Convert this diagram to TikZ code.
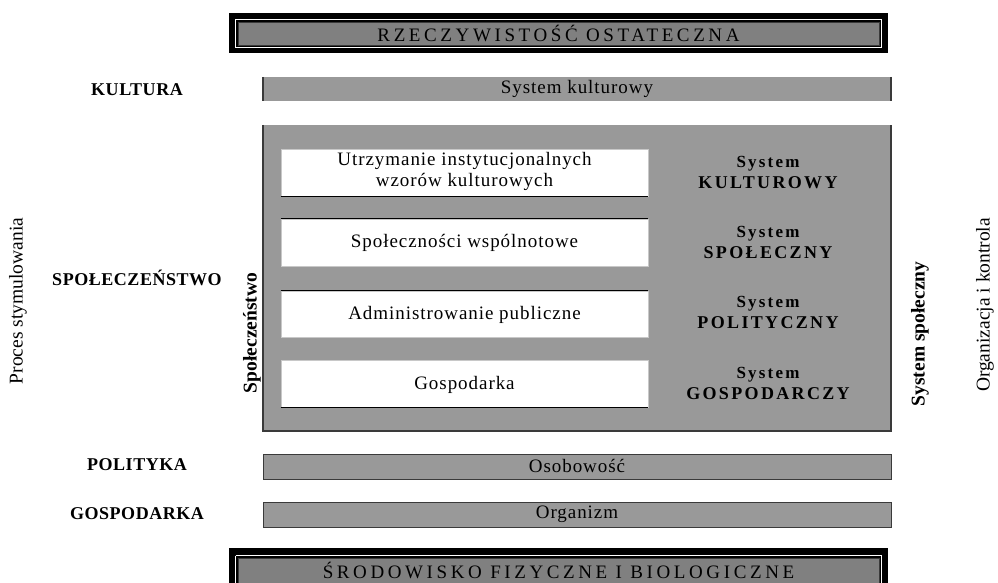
\documentclass[tikz,border=0pt]{standalone}
\usepackage{fontspec}
\setmainfont{Liberation Serif}
\newfontfamily\bodyf[LetterSpace=5]{Liberation Serif}
\newfontfamily\titlef[LetterSpace=19]{Liberation Serif}
\newfontfamily\labf[LetterSpace=3]{Liberation Serif}
\newfontfamily\sysf[LetterSpace=13]{Liberation Serif}
\newfontfamily\plainf{Liberation Serif}
\definecolor{barg}{HTML}{999999}
\definecolor{frameg}{HTML}{808080}
\definecolor{edge}{HTML}{3A3A3A}
\definecolor{lightedge}{HTML}{C8C8C8}
\begin{document}
\begin{tikzpicture}[x=1pt,y=-1pt,
  titletext/.style={font=\titlef\fontsize{19}{22}\selectfont, inner sep=0pt},
  bodytext/.style={font=\bodyf\fontsize{19}{21}\selectfont, align=center, inner sep=0pt},
  labtext/.style={font=\labf\bfseries\fontsize{18}{20}\selectfont, inner sep=0pt},
  systext/.style={font=\sysf\bfseries\fontsize{18}{21}\selectfont, align=center, inner sep=0pt},
  verttext/.style={rotate=90, font=\plainf\fontsize{19.5}{22}\selectfont, inner sep=0pt},
  vertbold/.style={rotate=90, font=\plainf\bfseries\fontsize{19.5}{22}\selectfont, inner sep=0pt},
  blackframe/.style={fill=black, draw=none, inner sep=0pt},
  framein/.style={fill=frameg, draw=edge, line width=0.8pt, inner sep=0pt},
  barbox/.style={fill=barg, draw=none, inner sep=0pt, minimum width=628pt, minimum height=24pt},
  framedbar/.style={fill=barg, draw=edge, line width=1pt, inner sep=0pt, minimum width=628pt, minimum height=25pt},
  wbox/.style={fill=white, draw=lightedge, line width=0.8pt, minimum width=367pt, inner sep=0pt},
  darkedge/.style={draw=edge, line width=1.6pt},
  blackline/.style={draw=black, line width=1.6pt},
  whiteline/.style={draw=white, line width=1.2pt}
]
\useasboundingbox (0,0) rectangle (998,583);
\clip (0,0) rectangle (998,583);

% top frame
\node[blackframe, minimum width=659pt, minimum height=40pt] (topf) at (558.5,33) {};
\node[framein, minimum width=641pt, minimum height=23pt] (topin) at (558.5,33.5) {};
\draw[whiteline] ([shift={(-2,-2)}]topin.north west) rectangle ([shift={(2,2)}]topin.south east);
\node[titletext] (toptext) at (558.5,33) {RZECZYWISTOŚĆ OSTATECZNA};

% System kulturowy bar
\node[barbox] (kbar) at (577,89) {};
\draw[darkedge] (kbar.north west) -- (kbar.south west);
\draw[darkedge] (kbar.north east) -- (kbar.south east);
\node[bodytext] (ktext) at (577,89) {System kulturowy};

% big box
\node[barbox, minimum height=306pt] (big) at (577,278) {};
\draw[darkedge] (big.north west) -- (big.south west) -- (big.south east) -- (big.north east);

% white boxes
\node[wbox, minimum height=47pt] (b1) at (464.5,172.5) {};
\node[bodytext] (t1) at (464.5,171) {Utrzymanie instytucjonalnych\\wzorów kulturowych};
\draw[blackline] (b1.south west) -- (b1.south east);

\node[wbox, minimum height=47pt] (b2) at (464.5,242.5) {};
\node[bodytext] (t2) at (464.5,243) {Społeczności wspólnotowe};
\draw[blackline] (b2.north west) -- (b2.north east);

\node[wbox, minimum height=46pt] (b3) at (464.5,314) {};
\node[bodytext] (t3) at (464.5,314.5) {Administrowanie publiczne};
\draw[blackline] (b3.north west) -- (b3.north east);

\node[wbox, minimum height=47pt] (b4) at (464.5,383.5) {};
\node[bodytext] (t4) at (464.5,384.5) {Gospodarka};
\draw[blackline] (b4.south west) -- (b4.south east);

% system labels
\node[systext] (s1) at (768,172.5) {{\fontsize{17}{21}\selectfont System}\\KULTUROWY};
\node[systext] (s2) at (768,242.5) {{\fontsize{17}{21}\selectfont System}\\SPOŁECZNY};
\node[systext] (s3) at (768,312.5) {{\fontsize{17}{21}\selectfont System}\\POLITYCZNY};
\node[systext] (s4) at (768,383) {{\fontsize{17}{21}\selectfont System}\\GOSPODARCZY};

% lower bars
\node[framedbar] (obar) at (577,466.5) {};
\node[bodytext] (otext) at (577,466) {Osobowość};
\node[framedbar] (gbar) at (577,514.5) {};
\node[bodytext] (gtext) at (577,514) {Organizm};

% bottom frame
\node[blackframe, minimum width=659pt, minimum height=60pt] (botf) at (558.5,578) {};
\node[framein, minimum width=641pt, minimum height=40pt] (botin) at (558.5,578) {};
\draw[whiteline] ([shift={(-2,-2)}]botin.north west) -- ([shift={(-2,0)}]botin.south west);
\draw[whiteline] ([shift={(-2,-2)}]botin.north west) -- ([shift={(2,-2)}]botin.north east) -- ([shift={(2,0)}]botin.south east);
\node[titletext] (bottext) at (558.5,570) {ŚRODOWISKO FIZYCZNE I BIOLOGICZNE};

% left labels
\node[labtext] (l1) at (137,90) {KULTURA};
\node[labtext] (l2) at (137,278) {SPOŁECZEŃSTWO};
\node[labtext] (l3) at (137,465) {POLITYKA};
\node[labtext] (l4) at (137,514) {GOSPODARKA};

% vertical texts
\node[verttext] (v1) at (18,301) {Proces stymulowania};
\node[vertbold] (v2) at (252,333) {Społeczeństwo};
\node[vertbold] (v3) at (920,334) {System społeczny};
\node[verttext] (v4) at (985,305) {Organizacja i kontrola};
\end{tikzpicture}
\end{document}
